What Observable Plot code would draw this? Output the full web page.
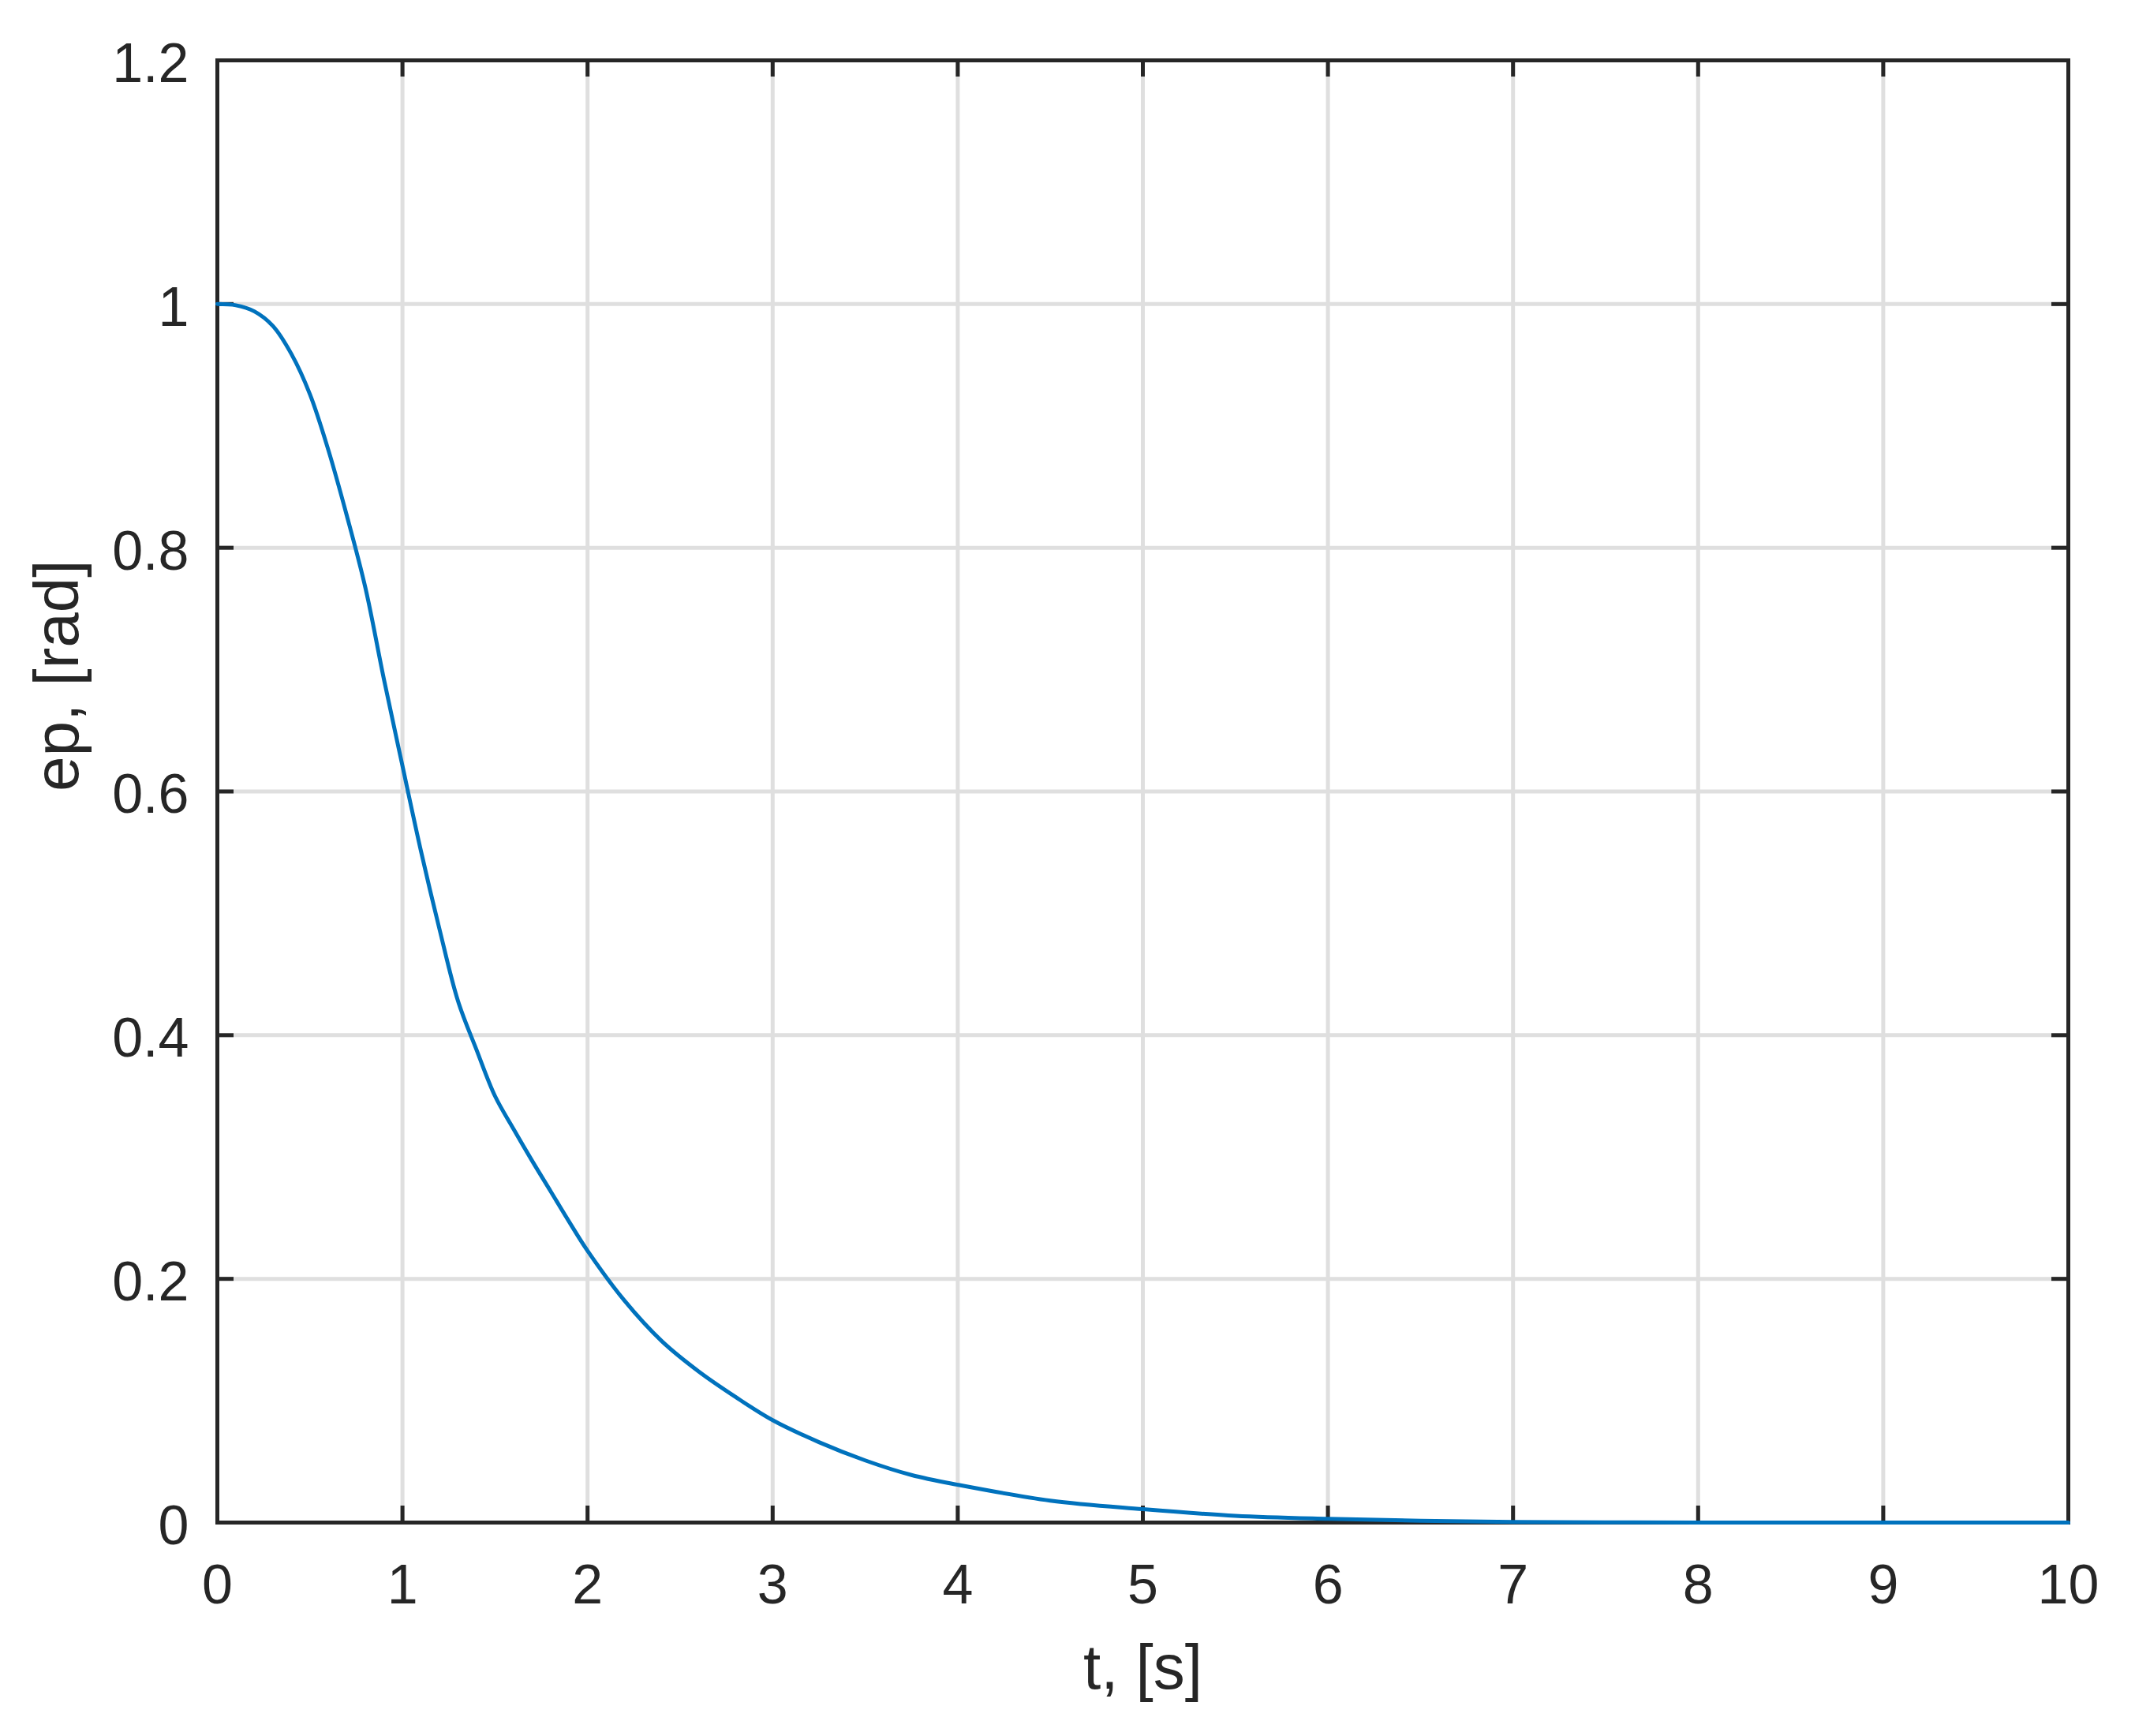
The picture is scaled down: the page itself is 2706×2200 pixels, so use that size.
<!DOCTYPE html>
<html>
<head>
<meta charset="utf-8">
<script src="https://cdn.jsdelivr.net/npm/d3@7"></script>
<script src="https://cdn.jsdelivr.net/npm/@observablehq/plot@0.6"></script>
<style>
  html, body { margin: 0; padding: 0; background: #ffffff; }
  #chart svg { display: block; }
</style>
</head>
<body>
<div id="chart"></div>
<script>
// ---- data ----
const tValues  = [0, 0.1, 0.2, 0.3, 0.4, 0.5, 0.6, 0.7, 0.8, 0.9, 1.0, 1.1, 1.2, 1.3, 1.4, 1.5, 1.6, 1.7, 1.8, 1.9, 2.0, 2.2, 2.4, 2.6, 2.8, 3.0, 3.25, 3.5, 3.75, 4.0, 4.5, 5.0, 5.5, 6.0, 6.5, 7.0, 8.0, 9.0, 10.0];
const epValues = [1.000, 0.999, 0.994, 0.982, 0.959, 0.926, 0.880, 0.826, 0.767, 0.692, 0.621, 0.551, 0.487, 0.428, 0.388, 0.350, 0.323, 0.297, 0.272, 0.247, 0.223, 0.182, 0.149, 0.124, 0.103, 0.084, 0.066, 0.051, 0.039, 0.031, 0.018, 0.011, 0.0055, 0.003, 0.0015, 0.0005, 0, 0, 0];
const xTicks = [0, 1, 2, 3, 4, 5, 6, 7, 8, 9, 10];
const yTicks = [0, 0.2, 0.4, 0.6, 0.8, 1, 1.2];
const xLabel = "t, [s]";
const yLabel = "ep, [rad]";

// ---- layout / style ----
const W = 2706, H = 2200;
const mL = 275, mR = 85, mT = 76, mB = 271;
const innerW = W - mL - mR, innerH = H - mT - mB;
const tickLen = 21;
const axisColor = "#262626";
const gridColor = "#dfdfdf";
const lineColor = "#0072BD";
const font = "'Liberation Sans', Arial, Helvetica, sans-serif";

const data = tValues.map((t, i) => ({t, ep: epValues[i]}));

const chart = Plot.plot({
  width: W,
  height: H,
  marginLeft: mL,
  marginRight: mR,
  marginTop: mT,
  marginBottom: mB,
  style: {fontFamily: font, fontSize: "70px", color: axisColor, background: "#ffffff"},
  x: {domain: [0, 10]},
  y: {domain: [0, 1.2]},
  marks: [
    Plot.gridX(xTicks, {stroke: gridColor, strokeOpacity: 1, strokeWidth: 5}),
    Plot.gridY(yTicks, {stroke: gridColor, strokeOpacity: 1, strokeWidth: 5}),
    Plot.tickX(xTicks, {x: d => d, insetTop: innerH - tickLen, stroke: axisColor, strokeWidth: 5}),
    Plot.tickX(xTicks, {x: d => d, insetBottom: innerH - tickLen, stroke: axisColor, strokeWidth: 5}),
    Plot.tickY(yTicks, {y: d => d, insetRight: innerW - tickLen, stroke: axisColor, strokeWidth: 5}),
    Plot.tickY(yTicks, {y: d => d, insetLeft: innerW - tickLen, stroke: axisColor, strokeWidth: 5}),
    Plot.frame({stroke: axisColor, strokeWidth: 5}),
    Plot.axisX(xTicks, {tickSize: 0, tickPadding: 53, fontSize: 70, fill: axisColor, label: null, tickFormat: d => String(d)}),
    Plot.axisY(yTicks, {tickSize: 0, tickPadding: 36, fontSize: 70, fill: axisColor, label: null, dy: 5, tickFormat: d => String(d)}),
    Plot.text([xLabel], {text: d => d, frameAnchor: "bottom", dy: 185, lineAnchor: "middle", fontSize: 80, fill: axisColor}),
    Plot.text([yLabel], {text: d => d, frameAnchor: "left", dx: -202, rotate: -90, lineAnchor: "middle", fontSize: 80, fill: axisColor}),
    Plot.line(data, {x: "t", y: "ep", stroke: lineColor, strokeWidth: 5, curve: "catmull-rom"})
  ]
});

document.getElementById("chart").appendChild(chart);
</script>
</body>
</html>
